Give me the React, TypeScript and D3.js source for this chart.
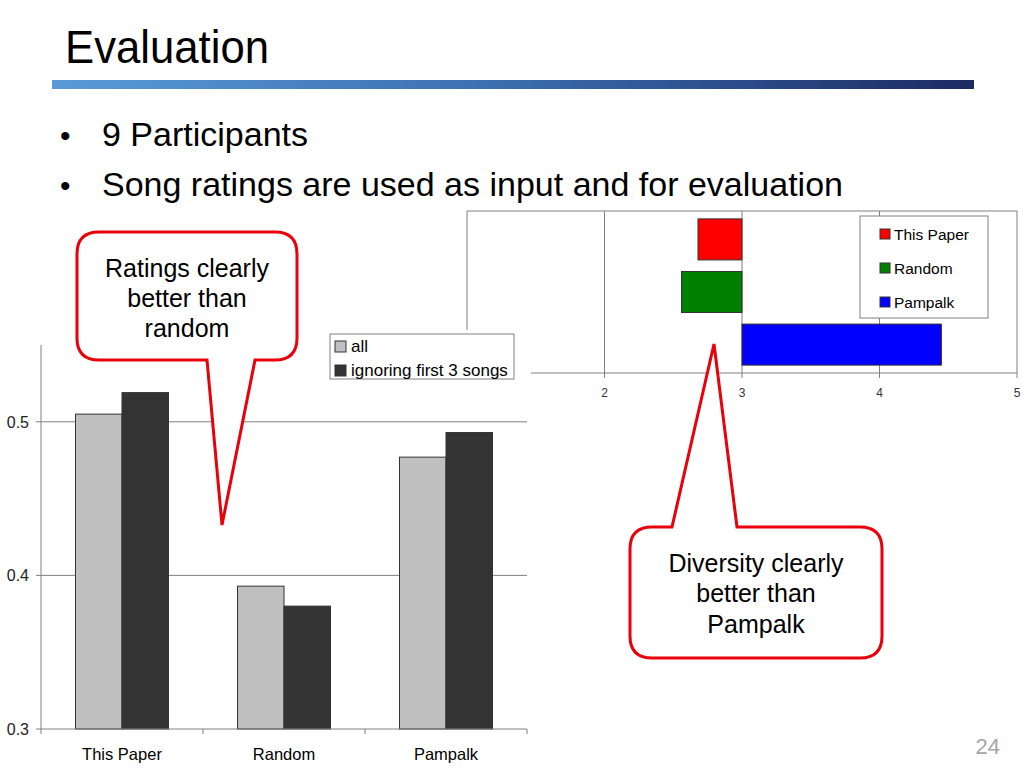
import React from "react";
import * as d3 from "d3";

// ---- Left chart data (ratings) ----
const categories = ["This Paper", "Random", "Pampalk"];
const ratingSeries = ["all", "ignoring first 3 songs"];
const allValues = [0.505, 0.393, 0.477];
const ignoringValues = [0.519, 0.38, 0.493];
const ratingTicks = [0.3, 0.4, 0.5];
const ratingColors = ["#c0c0c0", "#333333"];

// ---- Right chart data (diversity) ----
const diversitySeries = ["This Paper", "Random", "Pampalk"];
const diversityValues = [2.68, 2.56, 4.45];
const diversityTicks = [2, 3, 4, 5];
const diversityColors = ["#ff0000", "#008000", "#0000ff"];

const FONT = "Liberation Sans, Arial, Helvetica, sans-serif";
const RED = "#e8000b";

function calloutBottom(x: number, y: number, w: number, h: number, r: number, b1: number, b2: number, tx: number, ty: number) {
  return `M${x + r},${y} H${x + w - r} Q${x + w},${y} ${x + w},${y + r} V${y + h - r} Q${x + w},${y + h} ${x + w - r},${y + h} H${b2} L${tx},${ty} L${b1},${y + h} H${x + r} Q${x},${y + h} ${x},${y + h - r} V${y + r} Q${x},${y} ${x + r},${y} Z`;
}
function calloutTop(x: number, y: number, w: number, h: number, r: number, b1: number, b2: number, tx: number, ty: number) {
  return `M${x + r},${y} H${b1} L${tx},${ty} L${b2},${y} H${x + w - r} Q${x + w},${y} ${x + w},${y + r} V${y + h - r} Q${x + w},${y + h} ${x + w - r},${y + h} H${x + r} Q${x},${y + h} ${x},${y + h - r} V${y + r} Q${x},${y} ${x + r},${y} Z`;
}

export default function App() {
  // Right chart scales
  const rx = d3.scaleLinear().domain([1, 5]).range([467, 1017]);
  const ry = d3.scaleBand<string>().domain(diversitySeries).range([211, 373]).paddingInner(0.22).paddingOuter(0.15);
  const rTop = 211, rBottom = 373;

  // Left chart scales
  const lx = d3.scaleBand<string>().domain(categories).range([41, 527]).paddingInner(0.426).paddingOuter(0.213);
  const lsub = d3.scaleBand<string>().domain(ratingSeries).range([0, lx.bandwidth()]);
  const ly = d3.scaleLinear().domain([0.3, 0.55]).range([729, 345]);
  const lvals = [allValues, ignoringValues];
  const step = lx.step();
  const boundaries = [0, 1, 2, 3].map((i) => 41 + i * step);

  return (
    <svg width={1024} height={768} style={{ position: "absolute", left: 0, top: 0, background: "#fff" }} fontFamily={FONT}>
      <defs>
        <linearGradient id="titlebar" x1="0" x2="1" y1="0" y2="0">
          <stop offset="0" stopColor="#5a9ad8" />
          <stop offset="0.45" stopColor="#3d72b4" />
          <stop offset="1" stopColor="#1c2a63" />
        </linearGradient>
      </defs>
      <rect x={0} y={0} width={1024} height={768} fill="#fff" />

      {/* Title */}
      <text transform="translate(65,63) scale(0.95,1)" fontSize={46} fill="#000">Evaluation</text>
      <rect x={52} y={80} width={922} height={9} fill="url(#titlebar)" />

      {/* Bullets */}
      <text x={60} y={146} fontSize={30} fill="#000">•</text>
      <text x={102} y={146} fontSize={34} fill="#000">9 Participants</text>
      <text x={60} y={196} fontSize={30} fill="#000">•</text>
      <text x={102} y={196} fontSize={34} fill="#000">Song ratings are used as input and for evaluation</text>

      {/* ---------- Right chart ---------- */}
      <g>
        <line x1={rx(1)} x2={rx(5)} y1={rTop} y2={rTop} stroke="#808080" />
        {[1, 2, 3, 4, 5].map((t) => (
          <line key={t} x1={rx(t)} x2={rx(t)} y1={rTop} y2={rBottom} stroke="#808080" />
        ))}
        {diversitySeries.map((s, i) => {
          const v = diversityValues[i];
          const x0 = rx(Math.min(3, v));
          const x1 = rx(Math.max(3, v));
          return (
            <rect key={s} x={x0} y={ry(s)} width={x1 - x0} height={ry.bandwidth()} fill={diversityColors[i]} stroke="#333" strokeWidth={1} />
          );
        })}
        <line x1={rx(1)} x2={rx(5)} y1={rBottom} y2={rBottom} stroke="#808080" />
        {diversityTicks.map((t) => (
          <g key={t}>
            <line x1={rx(t)} x2={rx(t)} y1={rBottom} y2={rBottom + 5} stroke="#808080" />
            <text x={rx(t)} y={rBottom + 24} fontSize={12} fill="#333" textAnchor="middle">{t}</text>
          </g>
        ))}
        {/* legend */}
        <rect x={860} y={216} width={128} height={102} fill="#fff" stroke="#808080" />
        {diversitySeries.map((s, i) => (
          <g key={s}>
            <rect x={880} y={229 + i * 34} width={10} height={10} fill={diversityColors[i]} stroke="#333" />
            <text x={894} y={239.5 + i * 34} fontSize={15.5} fill="#000">{s}</text>
          </g>
        ))}
      </g>

      {/* ---------- Left chart ---------- */}
      <g>
        <rect x={0} y={330} width={531} height={438} fill="#fff" />
        {ratingTicks.filter((t) => t > 0.3).map((t) => (
          <line key={t} x1={41} x2={527} y1={ly(t)} y2={ly(t)} stroke="#808080" />
        ))}
        {categories.map((c, ci) => (
          <g key={c}>
            {ratingSeries.map((s, si) => {
              const v = lvals[si][ci];
              const x = (lx(c) as number) + (lsub(s) as number);
              return (
                <rect key={s} x={x} y={ly(v)} width={lsub.bandwidth()} height={ly(0.3) - ly(v)} fill={ratingColors[si]} stroke="#333" strokeWidth={1} />
              );
            })}
            <text x={(lx(c) as number) + lx.bandwidth() / 2} y={760} fontSize={16.5} fill="#000" textAnchor="middle">{c}</text>
          </g>
        ))}
        <line x1={41} x2={41} y1={ly(0.55)} y2={ly(0.3)} stroke="#808080" />
        <line x1={41} x2={527} y1={ly(0.3)} y2={ly(0.3)} stroke="#808080" />
        {boundaries.map((b, i) => (
          <line key={i} x1={b} x2={b} y1={ly(0.3)} y2={ly(0.3) + 5} stroke="#808080" />
        ))}
        {ratingTicks.map((t) => (
          <g key={t}>
            <line x1={36} x2={41} y1={ly(t)} y2={ly(t)} stroke="#808080" />
            <text x={29} y={ly(t) + 6} fontSize={16} fill="#222" textAnchor="end">{t.toFixed(1)}</text>
          </g>
        ))}
        {/* legend */}
        <rect x={330} y={334} width={184} height={45} fill="#fff" stroke="#808080" />
        {ratingSeries.map((s, i) => (
          <g key={s}>
            <rect x={335} y={341 + i * 24} width={11} height={11} fill={ratingColors[i]} stroke="#333" />
            <text x={351} y={352 + i * 24} fontSize={17} fill="#000">{s}</text>
          </g>
        ))}
      </g>

      {/* ---------- Callouts ---------- */}
      <path d={calloutBottom(77, 232, 220, 128, 22, 207, 255, 222, 525)} fill="#fff" stroke={RED} strokeWidth={3} strokeLinejoin="miter" />
      <g fontSize={25} fill="#000" textAnchor="middle">
        <text x={187} y={277}>Ratings clearly</text>
        <text x={187} y={307}>better than</text>
        <text x={187} y={337}>random</text>
      </g>
      <path d={calloutTop(630, 527, 252, 131, 22, 672, 737, 714, 344)} fill="#fff" stroke={RED} strokeWidth={3} strokeLinejoin="miter" />
      <g fontSize={25} fill="#000" textAnchor="middle">
        <text x={756} y={572}>Diversity clearly</text>
        <text x={756} y={602}>better than</text>
        <text x={756} y={633}>Pampalk</text>
      </g>

      {/* Page number */}
      <text x={1000} y={754} fontSize={22} fill="#a6a6a6" textAnchor="end">24</text>
    </svg>
  );
}
